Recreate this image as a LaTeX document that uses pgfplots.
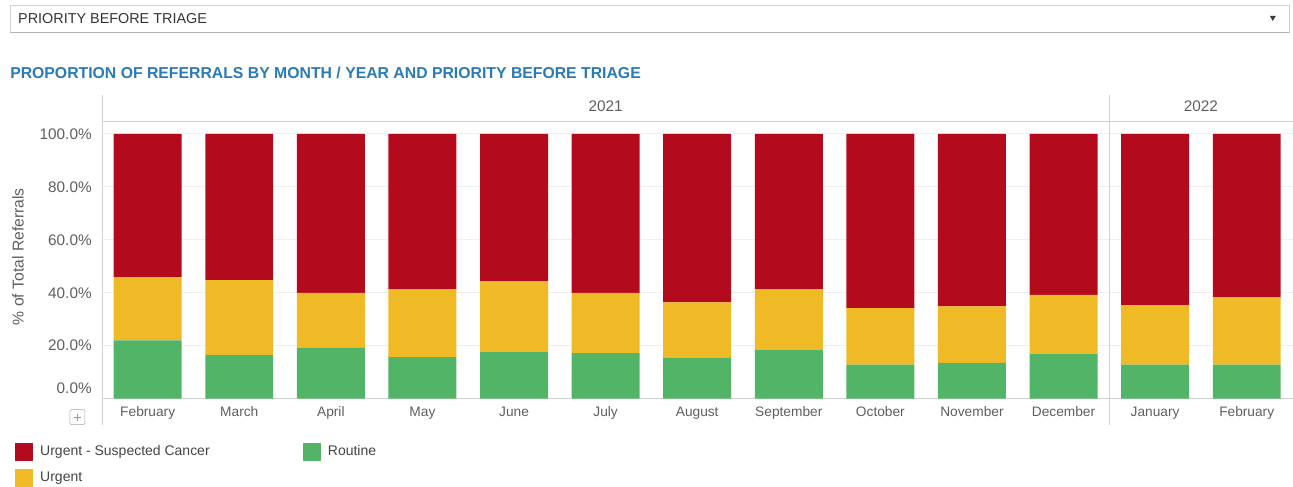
\documentclass[border=0pt]{standalone}
\usepackage{pgfplots}
\usepackage{pgfplotstable}
\pgfplotsset{compat=1.18}
\usepackage{fontspec}
\setmainfont{Liberation Sans}
\definecolor{cRed}{HTML}{B40A1E}
\definecolor{cYel}{HTML}{F0BA27}
\definecolor{cGrn}{HTML}{52B466}
\definecolor{cBlue}{HTML}{2A7AB5}
\definecolor{cTxt}{HTML}{5E5E5E}
\definecolor{cLeg}{HTML}{444444}
\definecolor{cLine}{HTML}{D2D2D2}
\definecolor{cGrid}{HTML}{EEEEEE}

\pgfplotstableread{
x green yellow red
0  22.0 23.8 54.2
1  16.5 28.3 55.2
2  19.2 20.7 60.1
3  15.7 25.7 58.6
4  17.8 26.5 55.7
5  17.2 22.7 60.1
6  15.4 21.0 63.6
7  18.5 22.9 58.6
8  12.8 21.4 65.8
9  13.5 21.3 65.2
10 17.0 22.2 60.8
11 12.8 22.4 64.8
12 12.8 25.4 61.8
}\data

\begin{document}
\begin{tikzpicture}
\begin{scope}[x=0.75pt,y=-0.75pt]
\path[use as bounding box] (0,0) rectangle (1293,487);
\draw[cLine] (10,5) rectangle (1290,32);
\draw[black!30] (10,32) -- (1290,32);
\node[anchor=west, inner sep=0pt, font=\fontsize{10.8}{12}\selectfont, text=black!80] at (18,18.5) {PRIORITY BEFORE TRIAGE};
\fill[black!75] (1271,16) -- (1277,16) -- (1274,21) -- cycle;
\node[anchor=west, inner sep=0pt, font=\bfseries\fontsize{11.85}{13}\selectfont, text=cBlue] at (10,73) {PROPORTION OF REFERRALS BY MONTH / YEAR AND PRIORITY BEFORE TRIAGE};
\draw[gray!70, rounded corners=1pt] (70,410) rectangle (85,425);
\draw[gray!80, line width=0.6pt] (74,417.5) -- (81,417.5) (77.5,414) -- (77.5,421);
\end{scope}

\begin{axis}[
  at={(76.5pt,-299.25pt)}, anchor=south west,
  scale only axis, width=893.8pt, height=198.75pt,
  xmin=-0.5, xmax=12.5, ymin=0, ymax=100,
  ybar stacked, bar width=51pt,
  axis line style={draw=none},
  major tick length=0pt,
  clip=false,
  xtick={0,...,12},
  xticklabels={February,March,April,May,June,July,August,September,October,November,December,January,February},
  ytick={20,40,60,80,100},
  yticklabels={20.0\%,40.0\%,60.0\%,80.0\%,100.0\%},
  extra y ticks={0},
  extra y tick labels={0.0\%},
  extra y tick style={grid=none, yticklabel style={yshift=8pt}},
  ymajorgrids, major grid style={cGrid, line width=0.75pt},
  xticklabel style={font=\fontsize{10.3}{12}\selectfont, text=cTxt, anchor=base, inner sep=0pt, yshift=-13.5pt},
  yticklabel style={font=\fontsize{11.5}{13}\selectfont, text=cTxt, anchor=east, inner sep=0pt, xshift=-7.5pt},
  ylabel={\% of Total Referrals},
  ylabel style={at={(axis description cs:-0.0705,0.536)}, anchor=center, font=\fontsize{11.8}{13}\selectfont, text=cTxt},
  legend image code/.code={\fill[#1, draw=none] (0pt,-6.75pt) rectangle (13.5pt,6.75pt);},
  legend columns=2,
  legend cell align=left,
  legend style={at={(axis description cs:-0.073,-0.166)}, anchor=north west, draw=none, fill=none, inner sep=0pt,
    font=\fontsize{10.5}{12}\selectfont, text=cLeg, row sep=6pt,
    nodes={inner sep=0pt},
    /tikz/every odd column/.append style={column sep=5.25pt},
    /tikz/every even column/.append style={column sep=70pt}},
]
\addplot[fill=cGrn, draw=none, forget plot] table[x=x, y=green]{\data};
\addplot[fill=cYel, draw=none, forget plot] table[x=x, y=yellow]{\data};
\addplot[fill=cRed, draw=none, forget plot] table[x=x, y=red]{\data};

\addlegendimage{fill=cRed, draw=none}\addlegendentry{Urgent - Suspected Cancer}
\addlegendimage{fill=cGrn, draw=none}\addlegendentry{Routine}
\addlegendimage{fill=cYel, draw=none}\addlegendentry{Urgent}

\draw[cLine] (axis cs:-0.5,0) -- (axis cs:12.5,0);
\draw[cLine] (axis cs:-0.5,114.7) -- (axis cs:-0.5,-9.8);
\draw[cLine] (axis cs:10.5,114.7) -- (axis cs:10.5,-9.8);
\draw[cLine] (axis cs:-0.5,104.9) -- (axis cs:12.5,104.9);
\node[font=\fontsize{11.5}{13}\selectfont, text=cTxt] at (axis cs:5,110.4) {2021};
\node[font=\fontsize{11.5}{13}\selectfont, text=cTxt] at (axis cs:11.5,110.4) {2022};
\end{axis}
\end{tikzpicture}
\end{document}
